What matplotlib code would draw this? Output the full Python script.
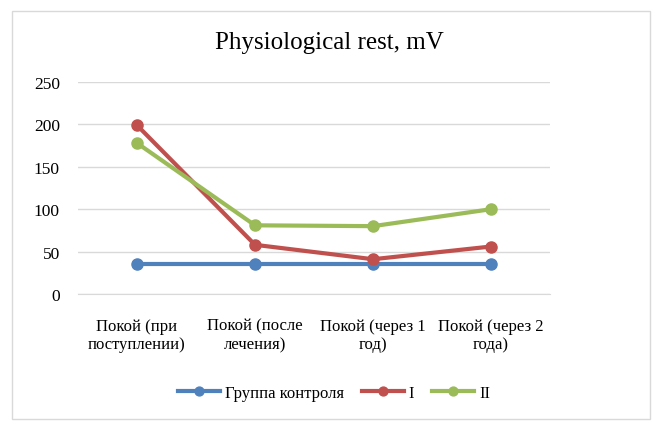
import matplotlib
matplotlib.use("Agg")
from matplotlib import pyplot as plt
from matplotlib.patches import Rectangle

categories = ["Покой (при\nпоступлении)", "Покой (после\nлечения)", "Покой (через 1\nгод)", "Покой (через 2\nгода)"]
control = [35, 35, 35, 35]
group_1 = [199, 58, 41, 56]
group_2 = [178, 81, 80, 100]
series_names = ["Группа контроля", "I", "II"]
colors = ["#4f81bd", "#c0504d", "#9bbb59"]

plt.rcParams['font.family'] = ['Liberation Serif', 'DejaVu Serif']

fig = plt.figure(figsize=(6.62, 4.31), dpi=100)
# outer frame like an Excel chart
fig.patches.append(Rectangle((12 / 662, 11 / 431), 638 / 662, 408 / 431, transform=fig.transFigure,
                             fill=False, edgecolor="#d9d9d9", linewidth=1))

ax = fig.add_axes([78 / 662, 1 - 295 / 431, 472 / 662, 212 / 431])
x = range(len(categories))
for values, name, color in zip([control, group_1, group_2], series_names, colors):
    ax.plot(x, values, color=color, linewidth=3, marker="o", markersize=8, label=name)

ax.set_xlim(-0.5, len(categories) - 0.5)
ax.set_ylim(0, 250)
ax.set_yticks(range(0, 251, 50))
ax.yaxis.grid(True, color="#d9d9d9", linewidth=1)
ax.set_axisbelow(True)
for side in ["top", "right", "left"]:
    ax.spines[side].set_visible(False)
ax.spines["bottom"].set_color("#d9d9d9")
ax.tick_params(axis="both", length=0, labelsize=12.5)
ax.tick_params(axis="x", pad=17)
ax.tick_params(axis="y", pad=13)
ax.set_xticks(list(x))
ax.set_xticklabels(categories, fontsize=12, linespacing=1.2)

fig.text(329 / 662, 1 - 43 / 431, "Physiological rest, mV", fontsize=18, ha="center", va="center")

fig.legend(*ax.get_legend_handles_labels(), loc="center", bbox_to_anchor=(334 / 662, 1 - 394 / 431),
           ncol=3, frameon=False, fontsize=12, handlelength=2.5, columnspacing=1.1,
           handletextpad=0.3, markerscale=0.8)

fig.savefig("out.png", dpi=100)
